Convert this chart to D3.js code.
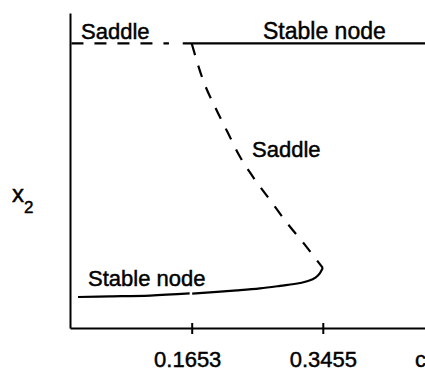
<!DOCTYPE html>
<html>
<head>
<meta charset="utf-8">
<script src="https://cdn.jsdelivr.net/npm/d3@7"></script>
<style>
  html, body { margin: 0; padding: 0; background: #fff; }
  svg { display: block; }
  text { font-family: "Liberation Sans", Arial, Helvetica, sans-serif; fill: #000; stroke: #000; stroke-width: 0.45px; }
</style>
</head>
<body>
<svg id="chart" width="425" height="371"></svg>
<script>
// Bifurcation values of the parameter c (tick positions)
const tickValues = [0.1653, 0.3455];
const tickLabels = ["0.1653", "0.3455"];

// Upper equilibrium x2 = 1: saddle for small c, stable node beyond the transcritical point
const upperSaddle = [{c: 0.000, x2: 1.0}, {c: 0.134, x2: 1.0}];
const upperStable = [{c: 0.153, x2: 1.0}, {c: 0.486, x2: 1.0}];

// Middle (saddle) branch from the transcritical point down to the fold
const middleSaddle = [
  {c: 0.1653, x2: 1.000}, {c: 0.1808, x2: 0.872}, {c: 0.1973, x2: 0.777},
  {c: 0.2152, x2: 0.685}, {c: 0.2303, x2: 0.608}, {c: 0.2495, x2: 0.531},
  {c: 0.2729, x2: 0.450}, {c: 0.2963, x2: 0.369}, {c: 0.3210, x2: 0.292},
  {c: 0.3455, x2: 0.211}
];

// Lower stable-node branch, ending at the fold c = 0.3455
const lowerStable = [
  {c: 0.009, x2: 0.109}, {c: 0.053, x2: 0.111}, {c: 0.108, x2: 0.114},
  {c: 0.1625, x2: 0.1215}, null,
  {c: 0.1660, x2: 0.121}, {c: 0.2001, x2: 0.127}, {c: 0.2276, x2: 0.132},
  {c: 0.2592, x2: 0.139}, {c: 0.2867, x2: 0.148}, {c: 0.3142, x2: 0.158},
  {c: 0.3251, x2: 0.165}, {c: 0.3348, x2: 0.176}, {c: 0.3416, x2: 0.193},
  {c: 0.3455, x2: 0.211}
];

const svg = d3.select("#chart");

const x = d3.scaleLinear().domain([-0.002, 0.486]).range([70, 425]);
const y = d3.scaleLinear().domain([0, 1.107]).range([328, 13]);

// Axes
const labelShift = [-4.5, 0];
const xAxis = svg.append("g")
  .attr("transform", `translate(0,${y(0)})`)
  .call(d3.axisBottom(x).tickValues(tickValues)
    .tickFormat((d, i) => tickLabels[i]).tickSizeInner(6).tickSizeOuter(0));
xAxis.select(".domain").attr("stroke", "#000").attr("stroke-width", 2);
xAxis.selectAll(".tick line").attr("y1", -5).attr("y2", 6)
  .attr("stroke", "#000").attr("stroke-width", 2);
xAxis.selectAll(".tick text")
  .attr("y", 38.5).attr("dy", 0)
  .attr("dx", (d, i) => labelShift[i])
  .attr("font-family", "Liberation Sans, Arial, sans-serif")
  .attr("font-size", 22).attr("fill", "#000");

const yAxis = svg.append("g")
  .attr("transform", `translate(${x(-0.002)},0)`)
  .call(d3.axisLeft(y).tickValues([]).tickSizeOuter(0));
yAxis.select(".domain").attr("stroke", "#000").attr("stroke-width", 2);

// Branch curves
const line = d3.line()
  .defined(d => d)
  .x(d => x(d.c)).y(d => y(d.x2))
  .curve(d3.curveMonotoneX);

function branch(data, dashed) {
  svg.append("path")
    .datum(data)
    .attr("d", line)
    .attr("fill", "none")
    .attr("stroke", "#000")
    .attr("stroke-width", 2.2)
    .attr("stroke-dasharray", dashed ? "12,11" : null);
}
branch(upperSaddle, true);
branch(upperStable, false);
branch(middleSaddle, true);
branch(lowerStable, false);

// Branch labels
const labels = [
  {text: "Saddle", px: 81, py: 39, size: 22},
  {text: "Stable node", px: 263, py: 39, size: 23},
  {text: "Saddle", px: 252, py: 157, size: 22},
  {text: "Stable node", px: 88, py: 286, size: 22}
];
svg.selectAll("text.branch").data(labels).join("text")
  .attr("class", "branch")
  .attr("x", d => d.px).attr("y", d => d.py)
  .attr("font-size", d => d.size)
  .text(d => d.text);

// Axis titles
svg.append("text").attr("x", 415).attr("y", 366.5).attr("font-size", 22).text("c");
const yt = svg.append("text").attr("x", 12).attr("y", 202).attr("font-size", 24);
yt.append("tspan").text("x");
yt.append("tspan").attr("dy", 11).attr("font-size", 17).text("2");
</script>
</body>
</html>
